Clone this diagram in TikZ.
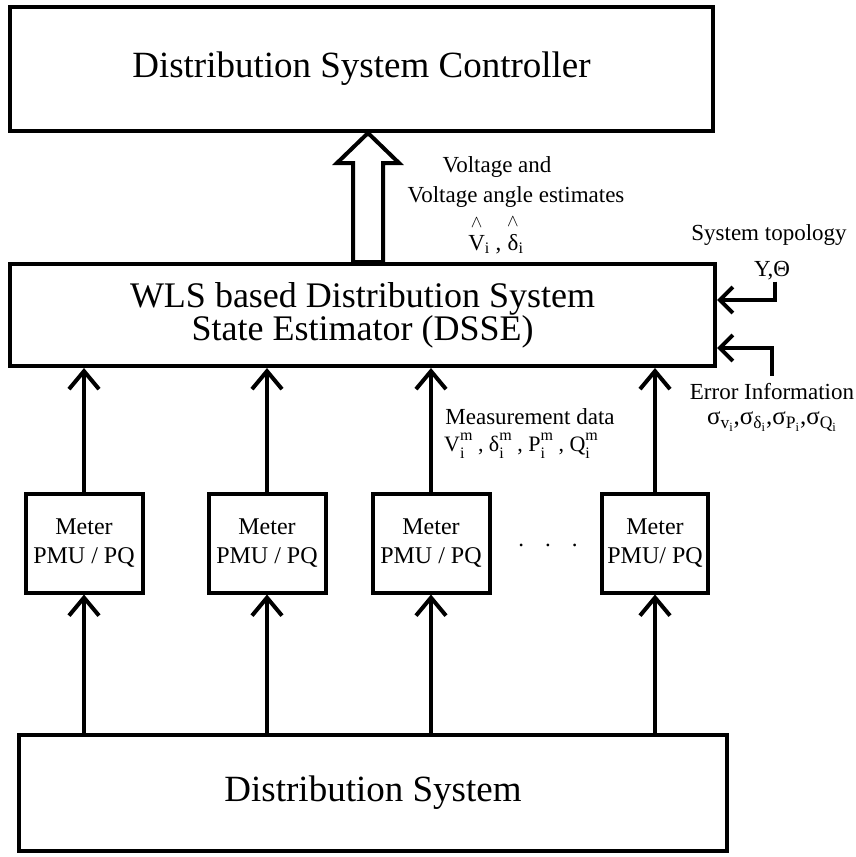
\documentclass[tikz,border=0pt]{standalone}
\usepackage{amsmath}
\usepackage{fontspec}
\setmainfont{Liberation Serif}
\usepackage{tikz}
\usetikzlibrary{arrows.meta,positioning,calc}
\tikzstyle{bigbox}   = [rectangle, draw, line width=4pt, inner sep=0pt,
    align=center, font=\fontsize{37}{40}\selectfont]
\tikzstyle{meterbox} = [rectangle, draw, line width=4pt, inner sep=1pt,
    align=center, minimum width=117pt, minimum height=99pt, font=\fontsize{24}{29}\selectfont]
\tikzstyle{tagtext}  = [inner sep=1pt, font=\fontsize{23}{27}\selectfont]
\tikzstyle{line}     = [draw, line width=4pt, -{Straight Barb[length=18pt,width=30pt]}]
\tikzstyle{sideline} = [draw, line width=4pt, -{Straight Barb[length=13pt,width=26pt]}]
\tikzstyle{hollow}   = [draw, line width=4pt, fill=white, line join=miter]
\newcommand{\widehatof}[1]{\overset{\raisebox{3pt}{$\scriptstyle\wedge$}}{\text{#1}}}
\newcommand{\supsub}[2]{\rlap{\raisebox{-7pt}{\fontsize{16}{16}\selectfont #2}}\raisebox{11pt}{\fontsize{16}{16}\selectfont #1}}

\begin{document}
\begin{tikzpicture}[x=1pt, y=1pt]
    \useasboundingbox (0,0) rectangle (856,-857);
    % Place nodes

    \node [bigbox, minimum width=703pt, minimum height=124pt] (ctrl) at (361.5,-69) {Distribution System Controller};
    \node [bigbox, minimum width=705pt, minimum height=102pt, font=\fontsize{36}{33}\selectfont] (wls) at (362.5,-315) {WLS based Distribution System\\State Estimator (DSSE)};
    \node [bigbox, minimum width=708pt, minimum height=116pt] (dist) at (373,-793) {Distribution System};

    \node [meterbox]                                  (meter1) at (84,-543) {Meter\\PMU / PQ};
    \node [meterbox, right of=meter1, node distance=183pt] (meter2) {Meter\\PMU / PQ};
    \node [meterbox, right of=meter2, node distance=164pt] (meter3) {Meter\\PMU / PQ};
    \node [meterbox, right of=meter3, node distance=224pt, minimum width=106pt] (meter4) {Meter\\PMU/ PQ};
    \node [tagtext] (dots) at (548,-545) {.\hspace{21pt}.\hspace{21pt}.};

    \node [tagtext] (volt1) at (497,-167) {Voltage and};
    \node [tagtext] (volt2) at (516,-197) {Voltage angle estimates};
    \node [tagtext] (estim) at (496,-234) {$\widehatof{V}_{\text{i}}$ , $\widehatof{δ}_{\text{i}}$};

    \node [tagtext] (topo)    at (769,-235) {System topology};
    \node [tagtext] (ytheta)  at (772,-271) {Y,Θ};
    \node [tagtext] (errinfo) at (772,-392) {Error Information};
    \node [tagtext, font=\fontsize{25}{28}\selectfont] (sigmas) at (772,-422) {σ$_{\text{v}_{\text{i}}}$,σ$_{\text{δ}_{\text{i}}}$,σ$_{\text{P}_{\text{i}}}$,σ$_{\text{Q}_{\text{i}}}$};

    \node [tagtext] (meas)    at (530,-417) {Measurement data};
    \node [tagtext, font=\fontsize{22}{26}\selectfont] (measval) at (521,-446) {V\supsub{m}{i} , δ\supsub{m}{i} , P\supsub{m}{i} , Q\supsub{m}{i}};

    % meters up to the estimator
    \path [line] (meter1.north) -- (meter1.north |- wls.south);
    \path [line] (meter2.north) -- (meter2.north |- wls.south);
    \path [line] (meter3.north) -- (meter3.north |- wls.south);
    \path [line] (meter4.north) -- (meter4.north |- wls.south);

    % distribution system up to the meters
    \path [line] (meter1.south |- dist.north) -- (meter1.south);
    \path [line] (meter2.south |- dist.north) -- (meter2.south);
    \path [line] (meter3.south |- dist.north) -- (meter3.south);
    \path [line] (meter4.south |- dist.north) -- (meter4.south);

    % side inputs
    \path [sideline] ([xshift=3pt]ytheta.south) |- ([yshift=15pt]wls.east);
    \path [sideline] ([yshift=7pt]errinfo.north) |- ([yshift=-33pt]wls.east);

    % estimates to the controller
    \coordinate (tip)  at ($(ctrl.south)+(6.5pt,0)$);
    \coordinate (tail) at ($(wls.north)+(5.5pt,0)$);
    \draw [hollow] ([xshift=-15pt]tail) -- ([xshift=-15pt,yshift=-30pt]tip) -- ([xshift=-31pt,yshift=-30pt]tip)
        -- (tip) -- ([xshift=31pt,yshift=-30pt]tip) -- ([xshift=15pt,yshift=-30pt]tip) -- ([xshift=15pt]tail) -- cycle;
\end{tikzpicture}
\end{document}
